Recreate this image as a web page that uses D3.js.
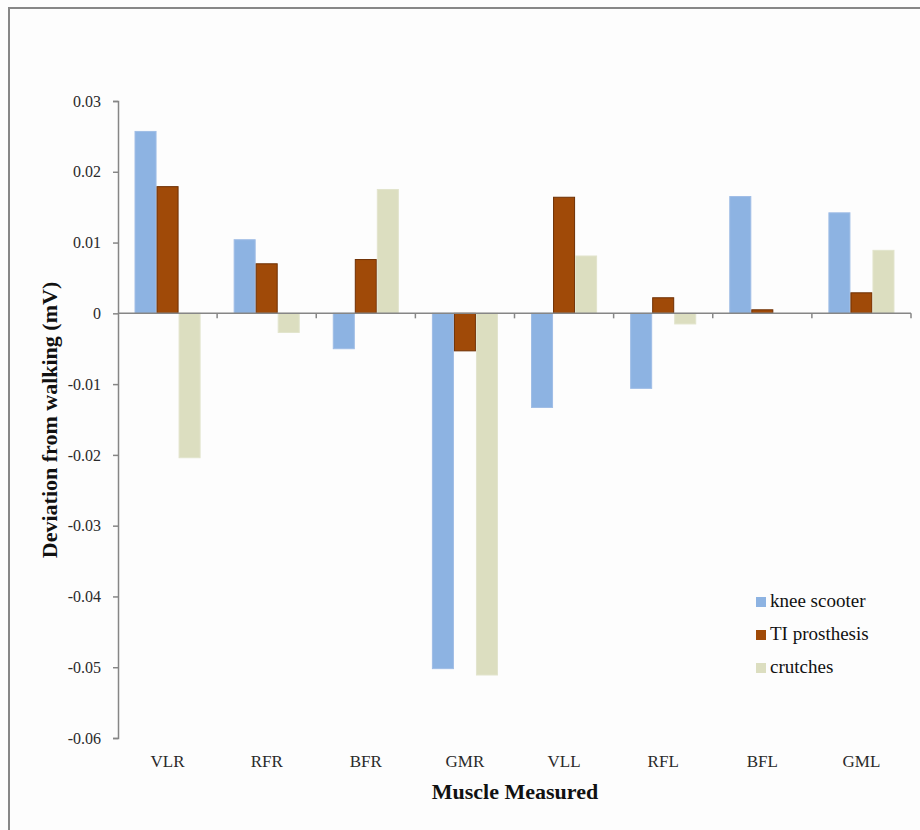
<!DOCTYPE html>
<html>
<head>
<meta charset="utf-8">
<script src="https://cdn.jsdelivr.net/npm/d3@7"></script>
<style>
  html, body { margin: 0; padding: 0; background: #fdfdfd; }
  svg { display: block; }
</style>
</head>
<body>
<svg id="chart" width="920" height="830"></svg>
<script>
// Muscles measured (R = right leg, L = left leg)
const categories = ["VLR", "RFR", "BFR", "GMR", "VLL", "RFL", "BFL", "GML"];
const seriesNames = ["knee scooter", "TI prosthesis", "crutches"];
const seriesColors = ["#8db3e2", "#a04a08", "#dcdec0"];
const seriesStrokes = ["#9fbde6", "#6e3004", "#e2e4cc"];

// Deviation from walking (mV) per muscle, one array per device
const kneeScooter  = [0.0257, 0.0104, -0.0050, -0.0502, -0.0133, -0.0106, 0.0165, 0.0142];
const tiProsthesis = [0.0179, 0.0070, 0.0076, -0.0053, 0.0164, 0.0022, 0.0005, 0.0029];
const crutches     = [-0.0204, -0.0027, 0.0175, -0.0511, 0.0081, -0.0015, 0.0000, 0.0089];
const seriesValues = [kneeScooter, tiProsthesis, crutches];

const yTicks = [0.03, 0.02, 0.01, 0, -0.01, -0.02, -0.03, -0.04, -0.05, -0.06];

const SERIF = "'Liberation Serif', 'Times New Roman', serif";

const svg = d3.select("#chart");

// outer frame
svg.append("rect")
  .attr("x", 9).attr("y", 8)
  .attr("width", 960).attr("height", 900)
  .attr("fill", "#fdfdfd")
  .attr("stroke", "#878787").attr("stroke-width", 2);

const plot = { left: 118, right: 911, top: 101, bottom: 738 };

const x = d3.scaleBand()
  .domain(categories)
  .range([plot.left, plot.right])
  .paddingInner(0).paddingOuter(0);

const x1 = d3.scaleBand()
  .domain(seriesNames)
  .range([0, x.bandwidth()])
  .paddingInner(0).paddingOuter(0.75);

const y = d3.scaleLinear()
  .domain([-0.06, 0.03])
  .range([plot.bottom, plot.top]);

// bars
const groups = svg.append("g").selectAll("g")
  .data(categories)
  .join("g")
  .attr("transform", d => `translate(${x(d)},0)`);

groups.selectAll("rect")
  .data((c, ci) => seriesNames.map((s, si) => ({ s, si, v: seriesValues[si][ci] })))
  .join("rect")
  .attr("x", d => x1(d.s) + 0.5)
  .attr("width", x1.bandwidth() - 1)
  .attr("y", d => y(Math.max(0, d.v)))
  .attr("height", d => Math.abs(y(d.v) - y(0)))
  .attr("fill", d => seriesColors[d.si])
  .attr("stroke", d => seriesStrokes[d.si])
  .attr("stroke-width", 1);

// y axis
const fmt = d => d === 0 ? "0" : d3.format(".2f")(d).replace("\u2212", "-");
const yAxis = svg.append("g")
  .attr("transform", `translate(${plot.left},0)`)
  .call(d3.axisLeft(y)
    .tickValues(yTicks)
    .tickSize(5)
    .tickPadding(12)
    .tickFormat(fmt));
yAxis.attr("font-family", null).attr("font-size", null);
yAxis.select(".domain").attr("stroke", "#868686").attr("stroke-width", 1.5);
yAxis.selectAll(".tick line").attr("stroke", "#868686").attr("stroke-width", 1.5);
yAxis.selectAll(".tick text")
  .style("font-family", SERIF)
  .style("font-size", "16px")
  .attr("fill", "#2a2a2a");

// x axis line at zero with ticks at category boundaries
const zeroY = y(0);
const xLine = svg.append("g");
xLine.append("line")
  .attr("x1", plot.left).attr("x2", plot.right)
  .attr("y1", zeroY).attr("y2", zeroY)
  .attr("stroke", "#868686").attr("stroke-width", 1.5);
const boundaries = categories.map(c => x(c) + x.bandwidth());
xLine.selectAll(".bt")
  .data(boundaries)
  .join("line")
  .attr("x1", d => d).attr("x2", d => d)
  .attr("y1", zeroY).attr("y2", zeroY + 5)
  .attr("stroke", "#868686").attr("stroke-width", 1.5);

// category labels along the bottom
const xAxis = svg.append("g")
  .attr("transform", `translate(0,${plot.bottom})`)
  .call(d3.axisBottom(x).tickSize(0).tickPadding(17));
xAxis.attr("font-family", null).attr("font-size", null);
xAxis.select(".domain").remove();
xAxis.selectAll(".tick text")
  .style("font-family", SERIF)
  .style("font-size", "17px")
  .attr("fill", "#2a2a2a");

// axis titles
svg.append("text")
  .attr("transform", `translate(57,420) rotate(-90)`)
  .attr("text-anchor", "middle")
  .style("font-family", SERIF)
  .style("font-size", "22px")
  .style("font-weight", "bold")
  .attr("fill", "#111")
  .text("Deviation from walking (mV)");

svg.append("text")
  .attr("x", 515)
  .attr("y", 799)
  .attr("text-anchor", "middle")
  .style("font-family", SERIF)
  .style("font-size", "22px")
  .style("font-weight", "bold")
  .attr("fill", "#111")
  .text("Muscle Measured");

// legend
const legend = svg.append("g").attr("transform", "translate(756,0)");
const legendRows = legend.selectAll("g")
  .data(seriesNames)
  .join("g")
  .attr("transform", (d, i) => `translate(0,${607 + i * 33})`);
legendRows.append("rect")
  .attr("x", 0).attr("y", -10)
  .attr("width", 10).attr("height", 10)
  .attr("fill", (d, i) => seriesColors[i]);
legendRows.append("text")
  .attr("x", 14).attr("y", 0)
  .style("font-family", SERIF)
  .style("font-size", "19px")
  .attr("fill", "#111")
  .text(d => d);
</script>
</body>
</html>
